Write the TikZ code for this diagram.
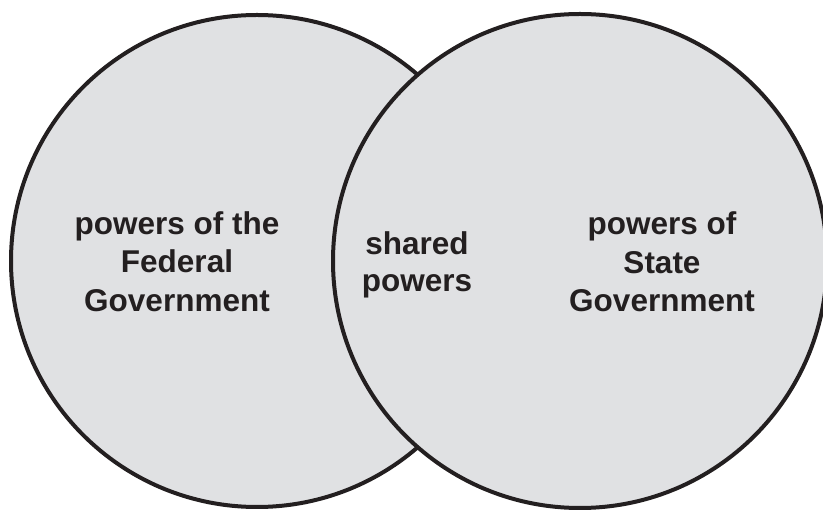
\documentclass[tikz,border=0pt]{standalone}
\usepackage{fontspec}
\setmainfont{Liberation Sans}
\definecolor{circfill}{HTML}{E0E1E3}
\definecolor{inkline}{HTML}{231F20}
\begin{document}
\begin{tikzpicture}[x=1pt,y=-1pt,
  venn/.style={draw=inkline,fill=circfill,line width=4pt},
  lbl/.style={anchor=base,inner sep=0pt,text=inkline,font=\fontsize{31.5}{38.5}\selectfont\bfseries}]
\useasboundingbox (0,0) rectangle (823,510);
\clip (0,0) rectangle (823,510);
\path[venn] (257,261) circle[radius=246];
\path[venn] (580,261) circle[radius=247];
\node[lbl] (l1) at (177,235) {powers of the};
\node[lbl] (l2) at (177,273) {Federal};
\node[lbl] (l3) at (177,312) {Government};
\node[lbl] (s1) at (417,255) {shared};
\node[lbl] (s2) at (417,292) {powers};
\node[lbl] (r1) at (662,235) {powers of};
\node[lbl] (r2) at (662,274) {State};
\node[lbl] (r3) at (662,312) {Government};
\end{tikzpicture}
\end{document}
